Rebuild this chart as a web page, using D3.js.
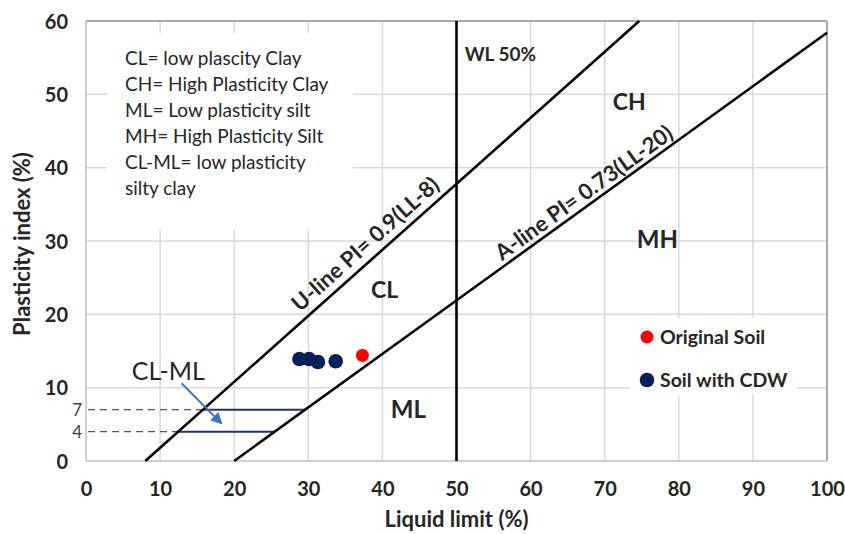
<!DOCTYPE html>
<html>
<head>
<meta charset="utf-8">
<script src="https://cdn.jsdelivr.net/npm/d3@7"></script>
<style>
  html, body { margin: 0; padding: 0; background: #fff; }
  svg { display: block; font-family: Lato, "Open Sans", sans-serif; }
</style>
</head>
<body>
<svg id="chart" width="845" height="534"></svg>
<script>
// Plasticity chart data
const xTicks = [0, 10, 20, 30, 40, 50, 60, 70, 80, 90, 100];
const yTicks = [0, 10, 20, 30, 40, 50, 60];
const clmlLevels = [4, 7];                 // CL-ML band limits (PI)

const origLL = [37.3];
const origPI = [14.4];
const cdwLL = [28.8, 30.1, 31.3, 33.7];
const cdwPI = [13.9, 13.9, 13.5, 13.6];

// Reference lines: PI = slope * (LL - offset)
const uSlope = 0.9,  uOffset = 8;
const aSlope = 0.73, aOffset = 20;
const wlLL = 50;

const notes = [
  "CL= low plascity Clay",
  "CH= High Plasticity Clay",
  "ML= Low plasticity silt",
  "MH= High Plasticity Silt",
  "CL-ML= low plasticity",
  "silty clay"
];

const svg = d3.select("#chart");
const x = d3.scaleLinear().domain([0, 100]).range([86, 827]);
const y = d3.scaleLinear().domain([0, 60]).range([461, 21]);

const uPI = ll => uSlope * (ll - uOffset);
const aPI = ll => aSlope * (ll - aOffset);
const uLL = pi => pi / uSlope + uOffset;
const aLL = pi => pi / aSlope + aOffset;

const ink = "#262626";

// gridlines
const grid = svg.append("g");
grid.selectAll("line.v").data(xTicks.slice(1, -1)).join("line")
  .attr("x1", d => x(d)).attr("x2", d => x(d))
  .attr("y1", y(0)).attr("y2", y(60))
  .attr("stroke", "#d9d9d9").attr("stroke-width", 1.5);
grid.selectAll("line.h").data(yTicks.slice(1, -1)).join("line")
  .attr("x1", x(0)).attr("x2", x(100))
  .attr("y1", d => y(d)).attr("y2", d => y(d))
  .attr("stroke", "#d9d9d9").attr("stroke-width", 1.5);

// frame
svg.append("line").attr("x1", x(0)).attr("x2", x(100)).attr("y1", y(60)).attr("y2", y(60))
  .attr("stroke", "#8c8c8c").attr("stroke-width", 1.5);
svg.append("line").attr("x1", x(100)).attr("x2", x(100)).attr("y1", y(0)).attr("y2", y(60))
  .attr("stroke", "#8c8c8c").attr("stroke-width", 1.5);
svg.append("line").attr("x1", x(0)).attr("x2", x(100)).attr("y1", y(0)).attr("y2", y(0))
  .attr("stroke", "#bfbfbf").attr("stroke-width", 1.5);
svg.append("line").attr("x1", x(0)).attr("x2", x(0)).attr("y1", y(0)).attr("y2", y(60))
  .attr("stroke", "#bfbfbf").attr("stroke-width", 1.5);

// note box (white background over the grid)
svg.append("rect").attr("x", 107).attr("y", 33).attr("width", 246).attr("height", 196).attr("fill", "#fff");
svg.append("g").selectAll("text").data(notes).join("text")
  .attr("x", 125).attr("y", (d, i) => 65 + i * 26)
  .attr("font-size", 19).attr("fill", ink).text(d => d);

// legend box
svg.append("rect").attr("x", 630).attr("y", 318).attr("width", 167).attr("height", 77).attr("fill", "#fff");

// axes tick labels
const xAxis = d3.axisBottom(x).tickValues(xTicks).tickSize(0).tickPadding(0);
const gx = svg.append("g").attr("transform", `translate(0,${y(0)})`).call(xAxis);
gx.select(".domain").remove();
gx.selectAll("text").attr("y", 35).attr("dy", 0)
  .attr("font-size", 20).attr("font-weight", "bold").attr("fill", ink)
  .attr("font-family", "Lato, sans-serif");

const yAxis = d3.axisLeft(y).tickValues(yTicks).tickSize(0).tickPadding(0);
const gy = svg.append("g").attr("transform", `translate(${x(0) - 18},0)`).call(yAxis);
gy.select(".domain").remove();
gy.selectAll("text").attr("dy", "0.36em")
  .attr("font-size", 20).attr("font-weight", "bold").attr("fill", ink)
  .attr("font-family", "Lato, sans-serif");

// axis titles
svg.append("text").attr("x", x(50)).attr("y", 527).attr("text-anchor", "middle")
  .attr("font-size", 22).attr("font-weight", "bold").attr("fill", ink)
  .text("Liquid limit (%)");
svg.append("text").attr("transform", `translate(30,${(y(0) + y(60)) / 2 + 3}) rotate(-90)`)
  .attr("text-anchor", "middle")
  .attr("font-size", 22).attr("font-weight", "bold").attr("fill", ink)
  .text("Plasticity index (%)");

// CL-ML band: dashed leaders, labels and limit lines
const band = svg.append("g");
band.selectAll("line.dash").data(clmlLevels).join("line")
  .attr("x1", x(0) + 2).attr("x2", d => x(uLL(d)))
  .attr("y1", d => y(d)).attr("y2", d => y(d))
  .attr("stroke", "#555").attr("stroke-width", 1.4).attr("stroke-dasharray", "7,5");
band.selectAll("text").data(clmlLevels).join("text")
  .attr("x", x(0) - 4).attr("y", d => y(d)).attr("dy", "0.36em")
  .attr("text-anchor", "end").attr("font-size", 17).attr("fill", "#404040").text(d => d);
band.selectAll("line.lim").data(clmlLevels).join("line")
  .attr("x1", d => x(uLL(d))).attr("x2", d => x(aLL(d)))
  .attr("y1", d => y(d)).attr("y2", d => y(d))
  .attr("stroke", "#1f3470").attr("stroke-width", 2);

// reference lines
const line = d3.line().x(d => x(d[0])).y(d => y(d[1]));
svg.append("path").attr("d", line([[uOffset, 0], [uLL(60), 60]]))
  .attr("stroke", "#000").attr("stroke-width", 2.6).attr("fill", "none");
svg.append("path").attr("d", line([[aOffset, 0], [100, aPI(100)]]))
  .attr("stroke", "#000").attr("stroke-width", 2.6).attr("fill", "none");
svg.append("path").attr("d", line([[wlLL, 0], [wlLL, 60]]))
  .attr("stroke", "#000").attr("stroke-width", 2.6).attr("fill", "none");

// rotated line labels
function lineLabel(ll, pi, slope, offset, txt) {
  const ang = Math.atan(slope * (y(0) - y(1)) / (x(1) - x(0))) * 180 / Math.PI;
  svg.append("text")
    .attr("transform", `translate(${x(ll)},${y(pi)}) rotate(${-ang})`)
    .attr("y", -offset).attr("text-anchor", "middle")
    .attr("font-size", 22).attr("font-weight", "bold").attr("fill", ink)
    .text(txt);
}
lineLabel(39.1, uPI(39.1), uSlope, 8, "U-line PI= 0.9(LL-8)");
lineLabel(68.2, aPI(68.2), aSlope, 5, "A-line PI= 0.73(LL-20)");

// zone labels
const zones = [
  { t: "CH", ll: 73.3, pi: 47.9, s: 23 },
  { t: "MH", ll: 77.1, pi: 29.1, s: 24 },
  { t: "CL", ll: 40.3, pi: 22.2, s: 23 },
  { t: "ML", ll: 43.5, pi: 5.9, s: 24 },
  { t: "CL-ML", ll: 11.1, pi: 11.05, s: 25 }
];
svg.append("g").selectAll("text").data(zones).join("text")
  .attr("x", d => x(d.ll)).attr("y", d => y(d.pi)).attr("text-anchor", "middle")
  .attr("font-size", d => d.s).attr("font-weight", d => d.t === "CL-ML" ? "normal" : "bold")
  .attr("fill", ink).text(d => d.t);
svg.append("text").attr("x", x(51.1)).attr("y", y(54.5))
  .attr("font-size", 19).attr("font-weight", "bold").attr("fill", ink).text("WL 50%");

// pointer arrow to the CL-ML band
const defs = svg.append("defs");
defs.append("marker").attr("id", "ah").attr("viewBox", "0 0 10 10")
  .attr("refX", 8).attr("refY", 5).attr("markerWidth", 6).attr("markerHeight", 6)
  .attr("orient", "auto")
  .append("path").attr("d", "M0,0 L10,5 L0,10 Z").attr("fill", "#4472c4");
svg.append("path").attr("d", line([[12.9, 10.6], [18.2, 5.2]]))
  .attr("stroke", "#4472c4").attr("stroke-width", 2).attr("fill", "none")
  .attr("marker-end", "url(#ah)");

// data points
svg.append("g").selectAll("circle").data(cdwLL.map((d, i) => [d, cdwPI[i]])).join("circle")
  .attr("cx", d => x(d[0])).attr("cy", d => y(d[1])).attr("r", 7.3).attr("fill", "#0a1f5c");
svg.append("g").selectAll("circle").data(origLL.map((d, i) => [d, origPI[i]])).join("circle")
  .attr("cx", d => x(d[0])).attr("cy", d => y(d[1])).attr("r", 6.5).attr("fill", "#ff0000");

// legend
const legend = [
  { t: "Original Soil", c: "#ff0000", r: 6.5 },
  { t: "Soil with CDW", c: "#0a1f5c", r: 7.3 }
];
const lg = svg.append("g").selectAll("g").data(legend).join("g")
  .attr("transform", (d, i) => `translate(647,${337 + i * 43})`);
lg.append("circle").attr("r", d => d.r).attr("fill", d => d.c);
lg.append("text").attr("x", 13).attr("dy", "0.36em")
  .attr("font-size", 19.5).attr("font-weight", "bold").attr("fill", ink).text(d => d.t);
</script>
</body>
</html>
